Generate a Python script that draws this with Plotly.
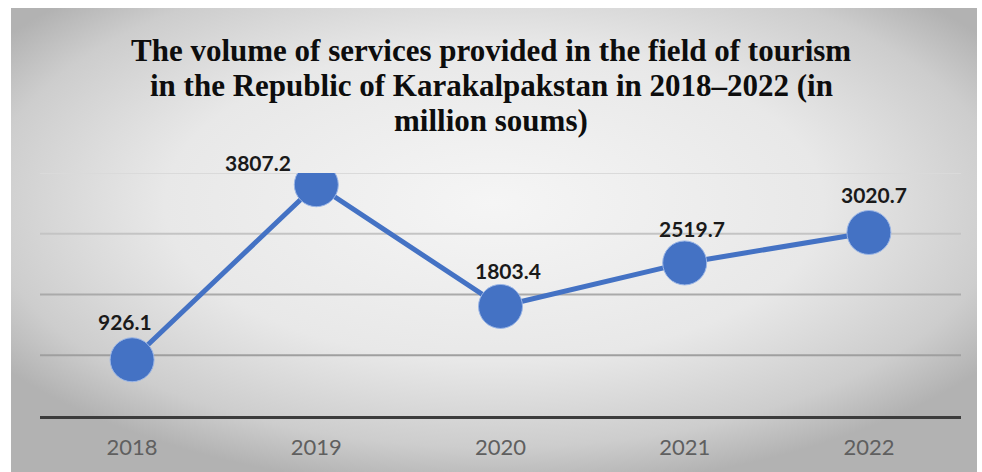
import base64
import plotly.graph_objects as go

# ---- data ----
years = ["2018", "2019", "2020", "2021", "2022"]
volume = [926.1, 3807.2, 1803.4, 2519.7, 3020.7]
title_lines = [
    "The volume of services provided in the field of tourism",
    "in the Republic of Karakalpakstan in 2018\u20132022 (in",
    "million soums)",
]
grid_values = [1000, 2000, 3000, 4000]

# ---- layout geometry (pixels) ----
W, H = 982, 472
left, right, top, bottom = 40, 21, 173, 56
plot_w = W - left - right
plot_h = H - top - bottom


def px_x(x):
    return (x - left) / plot_w


def px_y(y):
    return (H - bottom - y) / plot_h


BLUE = "#4472C4"

# soft radial grey background of the chart area
svg = (
    '<svg xmlns="http://www.w3.org/2000/svg" width="966" height="464" '
    'preserveAspectRatio="none" viewBox="0 0 966 464">'
    '<defs><radialGradient id="g" cx="50%" cy="42%" r="62%">'
    '<stop offset="0" stop-color="#f5f5f5"/>'
    '<stop offset="0.55" stop-color="#e8e8e8"/>'
    '<stop offset="0.85" stop-color="#cdcdcd"/>'
    '<stop offset="1" stop-color="#b2b2b2"/>'
    '</radialGradient></defs>'
    '<rect width="966" height="464" fill="url(#g)"/></svg>'
)
bg_src = "data:image/svg+xml;base64," + base64.b64encode(svg.encode()).decode()

fig = go.Figure()

fig.add_trace(
    go.Scatter(
        x=years,
        y=volume,
        mode="lines+markers",
        line=dict(color=BLUE, width=5),
        marker=dict(size=44, color=BLUE, line=dict(color="#9bb6e6", width=1)),
        hoverinfo="skip",
        showlegend=False,
    )
)

# value labels (offsets in pixels from each point)
label_offsets = [(-7, 38), (-58, 22), (7, 36), (7, 34), (5, 38)]
for i, (v, (dx, dy)) in enumerate(zip(volume, label_offsets)):
    fig.add_annotation(
        x=i, y=v, text=f"{v:.1f}", showarrow=False,
        xshift=dx, yshift=dy, xanchor="center", yanchor="middle",
        font=dict(family="Lato", size=21, color="#1a1a1a", weight="bold"),
    )

# title, one annotation per line
for line, ypx in zip(title_lines, [50, 85, 120]):
    fig.add_annotation(
        xref="paper", yref="paper", x=px_x(491), y=px_y(ypx),
        text=f"<b>{line}</b>", showarrow=False,
        xanchor="center", yanchor="middle",
        font=dict(family="Liberation Serif", size=31, color="#0d0d0d"),
    )

# horizontal gridlines
grid_colors = ["#9f9f9f", "#aaaaaa", "#c4c4c4", "#dadada"]
for gv, gc in zip(grid_values, grid_colors):
    fig.add_shape(
        type="line", xref="paper", yref="y", x0=0, x1=1, y0=gv, y1=gv,
        line=dict(color=gc, width=2), layer="below",
    )

fig.update_layout(
    width=W,
    height=H,
    margin=dict(l=left, r=right, t=top, b=bottom),
    paper_bgcolor="white",
    plot_bgcolor="rgba(0,0,0,0)",
    images=[
        dict(
            source=bg_src, xref="paper", yref="paper",
            x=px_x(11), y=px_y(8),
            sizex=px_x(977) - px_x(11), sizey=px_y(8) - px_y(472),
            xanchor="left", yanchor="top", sizing="stretch", layer="below",
        )
    ],
    xaxis=dict(
        type="category",
        range=[-0.5, len(years) - 0.5],
        showgrid=False,
        showline=True,
        linecolor="#3c3c3c",
        linewidth=3,
        ticks="",
        ticklabelstandoff=10,
        tickfont=dict(family="Lato", size=22, color="#5f5f5f"),
        fixedrange=True,
    ),
    yaxis=dict(
        range=[0, 4000],
        showgrid=False,
        zeroline=False,
        showticklabels=False,
        fixedrange=True,
    ),
)

fig.write_html("out.html")
